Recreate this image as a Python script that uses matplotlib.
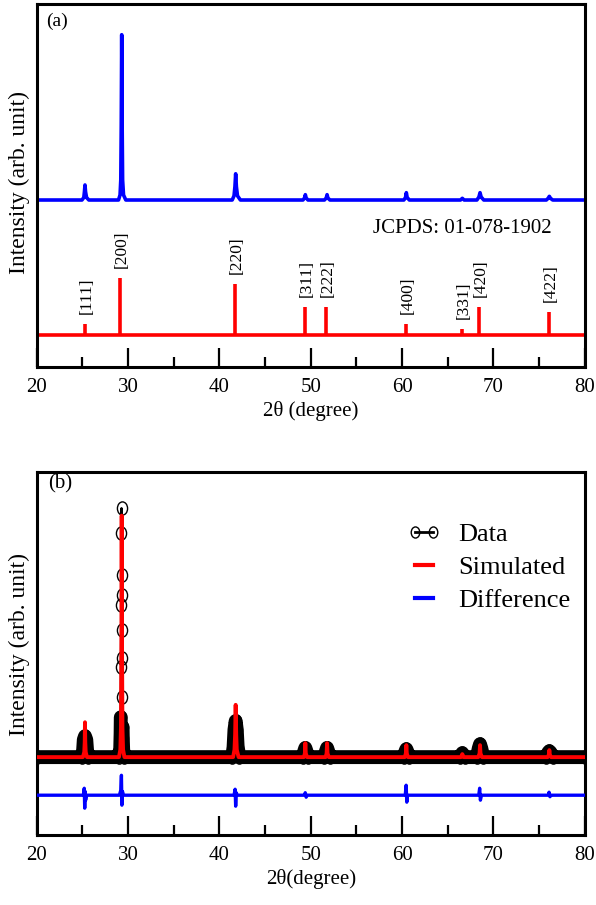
import numpy as np
import matplotlib
matplotlib.use('Agg')
import matplotlib.pyplot as plt
from matplotlib.path import Path
from matplotlib.lines import Line2D

plt.rcParams['font.family'] = ['Liberation Serif', 'DejaVu Serif']

# ---- panel (a): measured pattern (2theta, intensity) ----
xrd_x = [20.0,
         24.95, 25.15, 25.22, 25.28, 25.34, 25.45, 25.7,
         28.95, 29.12, 29.2, 29.25, 29.3, 29.35, 29.4, 29.5, 29.75,
         41.4, 41.6, 41.7, 41.78, 41.86, 41.98, 42.3,
         49.15, 49.32, 49.41, 49.5, 49.7,
         51.5, 51.7, 51.79, 51.88, 52.1,
         60.2, 60.38, 60.47, 60.56, 60.8,
         66.4, 66.6, 66.8,
         68.2, 68.42, 68.54, 68.66, 68.95,
         75.8, 76.0, 76.13, 76.26, 76.5,
         80.0]
xrd_y = [0,
         0, 1.5, 5, 9, 5, 1.5, 0,
         0, 3, 12, 45, 99, 45, 12, 3, 0,
         0, 2.5, 8, 15.7, 8, 2.5, 0,
         0, 1.2, 3.2, 1.2, 0,
         0, 1.2, 3.2, 1.2, 0,
         0, 1.5, 4.4, 1.5, 0,
         0, 1.0, 0,
         0, 1.8, 4.4, 1.8, 0,
         0, 1.0, 2.2, 1.0, 0,
         0]
xrd_offset = 80.8

# JCPDS 01-078-1902 reference lines
hkl = ['[111]', '[200]', '[220]', '[311]', '[222]', '[400]', '[331]', '[420]', '[422]']
ref_pos = [25.28, 29.11, 41.74, 49.37, 51.70, 60.47, 66.57, 68.47, 76.13]
ref_int = [6.6, 34.1, 30.5, 17.0, 17.0, 6.6, 3.6, 16.8, 13.8]

# ---- panel (b): refinement ----
data_x = [20.0,
          24.95, 25.08, 25.15, 25.28, 25.42, 25.5, 25.62,
          28.95, 29.14, 29.18, 29.2, 29.22, 29.24, 29.26, 29.28,
          29.3, 29.32, 29.34, 29.36, 29.38, 29.4, 29.42, 29.46, 29.6,
          41.4, 41.55, 41.65, 41.78, 41.9, 42.0, 42.2,
          49.15, 49.3, 49.41, 49.52, 49.7,
          51.5, 51.68, 51.79, 51.9, 52.1,
          60.2, 60.36, 60.47, 60.58, 60.8,
          66.35, 66.6, 66.85,
          68.2, 68.4, 68.54, 68.68, 68.9,
          75.8, 76.0, 76.13, 76.28, 76.5,
          80.0]
data_y = [0,
          0, 3, 7, 8.4, 7, 3, 0,
          0, 3.5, 9.6, 16, 36, 61, 90, 100,
          73, 65, 51, 40, 24, 12, 7.6, 3, 0,
          0, 4, 11, 14.5, 11, 4, 0,
          0, 2.5, 3.7, 2.5, 0,
          0, 2.5, 3.7, 2.5, 0,
          0, 2.2, 3.2, 2.2, 0,
          0, 1.6, 0,
          0, 3.5, 5.2, 3.5, 0,
          0, 1.8, 2.4, 1.8, 0,
          0]

sim_x = [20.0,
         25.05, 25.2, 25.25, 25.28, 25.31, 25.36, 25.5,
         29.0, 29.15, 29.22, 29.27, 29.3, 29.33, 29.38, 29.45, 29.6,
         41.5, 41.65, 41.72, 41.78, 41.84, 41.9, 42.1,
         49.25, 49.36, 49.41, 49.46, 49.6,
         51.63, 51.74, 51.79, 51.84, 51.98,
         60.3, 60.42, 60.47, 60.52, 60.65,
         66.45, 66.6, 66.75,
         68.35, 68.49, 68.54, 68.59, 68.75,
         75.95, 76.08, 76.13, 76.18, 76.32,
         80.0]
sim_y = [0,
         0, 2, 6, 14, 6, 2, 0,
         0, 3, 12, 50, 97, 50, 12, 3, 0,
         0, 3, 9, 21, 9, 3, 0,
         0, 1.5, 5.6, 1.5, 0,
         0, 1.5, 5.6, 1.5, 0,
         0, 1.5, 4.8, 1.5, 0,
         0, 1.2, 0,
         0, 1.5, 4.8, 1.5, 0,
         0, 1.0, 2.8, 1.0, 0,
         0]

diff_x = [20.0,
          25.1, 25.2, 25.25, 25.3, 25.35, 25.45,
          29.05, 29.2, 29.27, 29.32, 29.38, 29.5,
          41.6, 41.72, 41.78, 41.85, 41.95,
          49.3, 49.4, 49.5, 49.6,
          60.35, 60.45, 60.52, 60.6,
          68.4, 68.5, 68.58, 68.7,
          76.0, 76.1, 76.2, 76.3,
          80.0]
diff_y = [0,
          0, 2.8, -5.2, 1.5, -2, 0,
          0, 2, 8, -4, 1.5, 0,
          0, 2.4, -4.4, 1, 0,
          0, 1, -0.8, 0,
          0, 4, -2.8, 0,
          0, 2.8, -2, 0,
          0, 1.2, -0.6, 0,
          0]
diff_offset = -15.3

BLUE = '#0000ff'
RED = '#ff0000'

# slightly tall open circle, like the original markers
circ = Path.unit_circle()
ellipse = Path(circ.vertices * np.array([0.77, 1.0]), circ.codes)

fig = plt.figure(figsize=(5.96, 9.05), dpi=100)
ax1 = fig.add_axes([0.0617, 0.5945, 0.9193, 0.4011])
ax2 = fig.add_axes([0.0617, 0.0773, 0.9193, 0.4011])


def style(ax, xlabel):
    ax.set_xlim(20, 80)
    ax.set_xticks(np.arange(20, 81, 10))
    ax.set_xticks(np.arange(25, 80, 10), minor=True)
    ax.set_yticks([])
    ax.tick_params(axis='x', which='major', direction='in', length=14,
                   width=1.6, labelsize=15, pad=8)
    ax.tick_params(axis='x', which='minor', direction='in', length=7, width=1.6)
    for s in ax.spines.values():
        s.set_linewidth(2.2)
    ax.set_xlabel(xlabel, fontsize=15, labelpad=3)
    ax.set_ylabel('Intensity (arb. unit)', fontsize=17)


# (a)
ax1.plot(xrd_x, np.array(xrd_y) + xrd_offset, color=BLUE, lw=2.6)
ax1.axhline(0, color=RED, lw=2.6)
ax1.vlines(ref_pos, 0, ref_int, color=RED, lw=2.6)
for p, h, lab in zip(ref_pos, ref_int, hkl):
    ax1.annotate(lab, (p, h), xytext=(1, 7), textcoords='offset points',
                 rotation=90, ha='center', va='bottom', fontsize=12.5)
ax1.text(76.4, 64, 'JCPDS: 01-078-1902', ha='right', va='center', fontsize=15)
ax1.text(0.017, 0.975, '(a)', transform=ax1.transAxes, ha='left', va='top',
         fontsize=14)
ax1.set_ylim(-19.2, 198.2)
style(ax1, '2θ (degree)')
ax1.yaxis.set_label_coords(-0.012, 0.507)

# (b)
dx = np.array(data_x)
dy = np.array(data_y, dtype=float)
band = np.where(dy > 20, np.nan, dy)
ax2.plot(dx, band, color='k', lw=10, solid_capstyle='round', zorder=2)
ax2.plot(dx, dy, color='k', lw=1.6, marker=ellipse, ms=9.5, mfc='none',
         mec='k', mew=1.0, zorder=3)
ax2.plot(sim_x, sim_y, color=RED, lw=2.8, zorder=4)
ax2.plot(diff_x, np.array(diff_y) + diff_offset, color=BLUE, lw=2.4, zorder=4)
ax2.text(0.02, 0.995, '(b)', transform=ax2.transAxes, ha='left', va='top',
         fontsize=15)
ax2.set_ylim(-31.3, 114.5)
style(ax2, '2θ(degree)')
ax2.yaxis.set_label_coords(-0.012, 0.525)

handles = [Line2D([0], [0], color='k', lw=2, marker=ellipse, ms=8, mfc='none',
                  mec='k', mew=1.0),
           Line2D([0], [0], color=RED, lw=3),
           Line2D([0], [0], color=BLUE, lw=3)]
ax2.legend(handles, ['Data', 'Simulated', 'Difference'], loc='upper left',
           bbox_to_anchor=(0.675, 0.86), frameon=False, fontsize=19,
           handlelength=1.3, handletextpad=0.65, labelspacing=0.35,
           borderpad=0, borderaxespad=0, numpoints=2)

fig.savefig('out.png', dpi=100)
